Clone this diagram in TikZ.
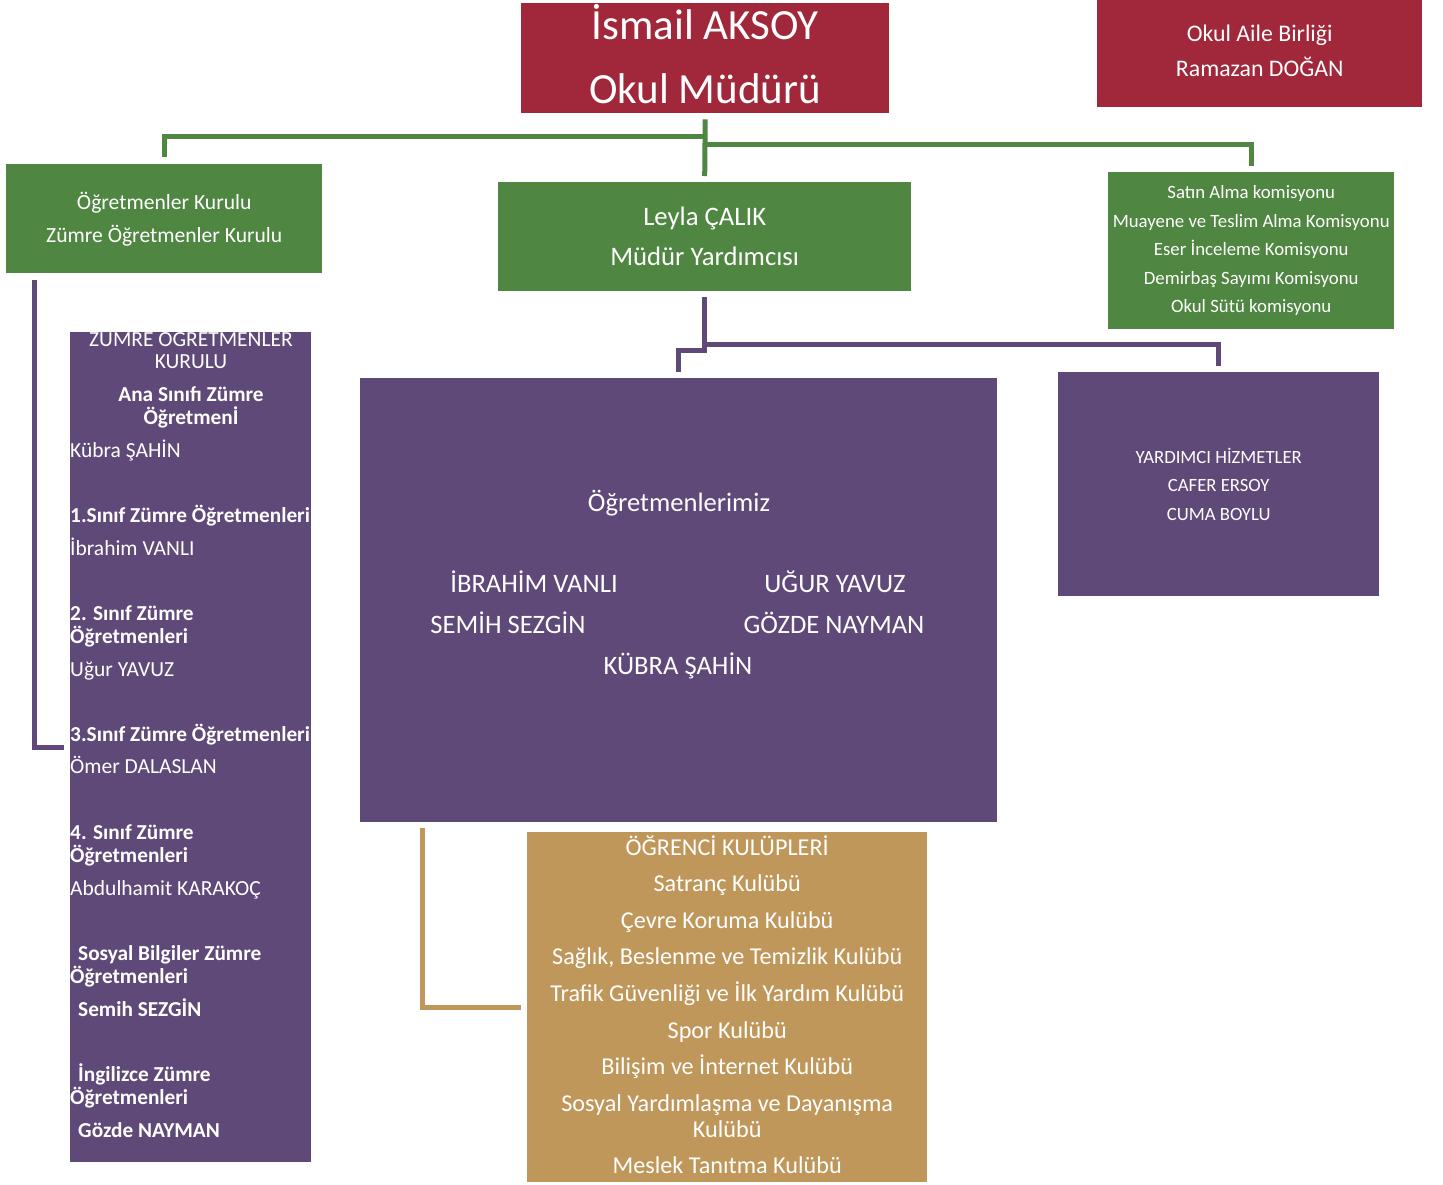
\documentclass[tikz,border=0pt]{standalone}
\usepackage{fontspec}
\setmainfont{Carlito}
\usetikzlibrary{calc}
\definecolor{cred}{HTML}{A0283A}
\definecolor{cgreen}{HTML}{4F8641}
\definecolor{cpurple}{HTML}{5F4978}
\definecolor{cgold}{HTML}{C0975A}
\tikzset{
  box/.style={rectangle, inner sep=0pt, anchor=north west, text=white, align=center},
  redbox/.style={box, fill=cred},
  greenbox/.style={box, fill=cgreen},
  purplebox/.style={box, fill=cpurple},
  goldbox/.style={box, fill=cgold},
  gline/.style={draw=cgreen, line width=5pt},
  pline/.style={draw=cpurple, line width=5pt},
  goldline/.style={draw=cgold, line width=5pt},
  ztext/.style={anchor=west, inner sep=0pt, text=white, text height=13.5pt, text depth=0pt, font=\fontsize{21.5}{23}\selectfont},
  zbold/.style={ztext, font=\fontsize{21.3}{23}\selectfont\bfseries},
  ztitle/.style={ztext, anchor=center},
  ztitleb/.style={zbold, anchor=center},
  otext/.style={anchor=center, inner sep=0pt, text=white, text height=17pt, text depth=0pt, font=\fontsize{26.6}{30}\selectfont}
}
\begin{document}
\begin{tikzpicture}[x=1pt, y=-1pt]
\useasboundingbox (0,0) rectangle (1443,1184);

% boxes
\node[redbox, minimum width=368pt, minimum height=110pt] (mudur) at (521,3) {};
\node[redbox, minimum width=325pt, minimum height=107pt] (aile) at (1097,0) {};
\node[greenbox, minimum width=316pt, minimum height=109pt, font=\fontsize{21.6}{33}\selectfont] (kurul) at (6,164) {Öğretmenler Kurulu\\Zümre Öğretmenler Kurulu};
\node[greenbox, minimum width=413pt, minimum height=109pt, font=\fontsize{26.7}{40}\selectfont] (leyla) at (498,182) {Leyla ÇALIK\\Müdür Yardımcısı};
\node[greenbox, minimum width=286pt, minimum height=157pt, font=\fontsize{18.8}{28.5}\selectfont] (komis) at (1108,172) {Satın Alma komisyonu\\Muayene ve Teslim Alma Komisyonu\\Eser İnceleme Komisyonu\\Demirbaş Sayımı Komisyonu\\Okul Sütü komisyonu};
\node[purplebox, minimum width=321pt, minimum height=224pt, font=\fontsize{18.7}{28.5}\selectfont] (yard) at (1058,372) {YARDIMCI HİZMETLER\\CAFER ERSOY\\CUMA BOYLU};
\node[purplebox, minimum width=637pt, minimum height=444pt] (ogret) at (360,378) {};
\node[purplebox, minimum width=241pt, minimum height=830pt] (zumre) at (70,332) {};
\node[goldbox, minimum width=400pt, minimum height=350pt] (kulup) at (527,832) {};

% red box texts
\node[anchor=center, inner sep=0pt, text=white, align=center, font=\fontsize{43}{64}\selectfont] (mudurt) at ([yshift=4pt]mudur.center) {İsmail AKSOY\\Okul Müdürü};
\node[anchor=center, inner sep=0pt, text=white, align=center, font=\fontsize{23.8}{35}\selectfont] (ailet) at ([yshift=2.5pt]aile.center) {Okul Aile Birliği\\Ramazan DOĞAN};

% clubs text
\node[anchor=center, inner sep=0pt, text=white, align=center, font=\fontsize{24.2}{26}\selectfont] (kulupt) at ([yshift=2.5pt]kulup.center) {ÖĞRENCİ KULÜPLERİ\\[10.6pt]Satranç Kulübü\\[10.6pt]Çevre Koruma Kulübü\\[10.6pt]Sağlık, Beslenme ve Temizlik Kulübü\\[10.6pt]Trafik Güvenliği ve İlk Yardım Kulübü\\[10.6pt]Spor Kulübü\\[10.6pt]Bilişim ve İnternet Kulübü\\[10.6pt]Sosyal Yardımlaşma ve Dayanışma\\Kulübü\\[10.6pt]Meslek Tanıtma Kulübü};

% Öğretmenlerimiz text
\node[otext] (o0) at (679,503) {Öğretmenlerimiz};
\node[otext] (o1) at (534,584) {İBRAHİM VANLI};
\node[otext] (o2) at (835,584) {UĞUR YAVUZ};
\node[otext] (o3) at (508,625) {SEMİH SEZGİN};
\node[otext] (o4) at (834,625) {GÖZDE NAYMAN};
\node[otext] (o5) at (678,666) {KÜBRA ŞAHİN};

% Zümre text
\node[ztitle] (zt1) at (191,340) {ZÜMRE ÖĞRETMENLER};
\node[ztitle] (zt2) at (191,362) {KURULU};
\node[ztitleb] (zt3) at (191,395) {Ana Sınıfı Zümre};
\node[ztitleb] (zt4) at (191,418) {Öğretmenİ};
\node[ztext] (z1) at (70,451) {Kübra ŞAHİN};
\node[zbold] (z2) at (70,516) {1.Sınıf Zümre Öğretmenleri};
\node[ztext] (z3) at (70,549) {İbrahim VANLI};
\node[zbold] (z4) at (70,614) {2. Sınıf Zümre};
\node[zbold] (z5) at (70,637) {Öğretmenleri};
\node[ztext] (z6) at (70,670) {Uğur YAVUZ};
\node[zbold] (z7) at (70,735) {3.Sınıf Zümre Öğretmenleri};
\node[ztext] (z8) at (70,767) {Ömer DALASLAN};
\node[zbold] (z9) at (70,833) {4. Sınıf Zümre};
\node[zbold] (z10) at (70,856) {Öğretmenleri};
\node[ztext] (z11) at (70,889) {Abdulhamit KARAKOÇ};
\node[zbold] (z12) at (78,954) {Sosyal Bilgiler Zümre};
\node[zbold] (z13) at (70,977) {Öğretmenleri};
\node[zbold] (z14) at (78,1010) {Semih SEZGİN};
\node[zbold] (z15) at (78,1075) {İngilizce Zümre};
\node[zbold] (z16) at (70,1098) {Öğretmenleri};
\node[zbold] (z17) at (78,1131) {Gözde NAYMAN};

% connectors
\draw[gline] ([yshift=-6pt]mudur.south) -- ([yshift=6pt]leyla.north);
\draw[gline] ([yshift=-23.5pt]mudur.south) -| ([yshift=7pt]kurul.north);
\draw[gline] ([yshift=-31.5pt]mudur.south) -| ([yshift=6pt]komis.north);

\draw[pline] ([yshift=-6pt]leyla.south) |- ([yshift=28pt]ogret.north) -- ([yshift=6pt]ogret.north);
\draw[pline] ([yshift=-53.5pt]leyla.south) -| ([yshift=6pt]yard.north);

\coordinate (zin) at (64,747);
\draw[pline] ([xshift=28.5pt,yshift=-7pt]kurul.south west) |- (zin);

\draw[goldline] ([xshift=62pt,yshift=-6pt]ogret.south west) |- ([xshift=-6pt]kulup.west);
\end{tikzpicture}
\end{document}
